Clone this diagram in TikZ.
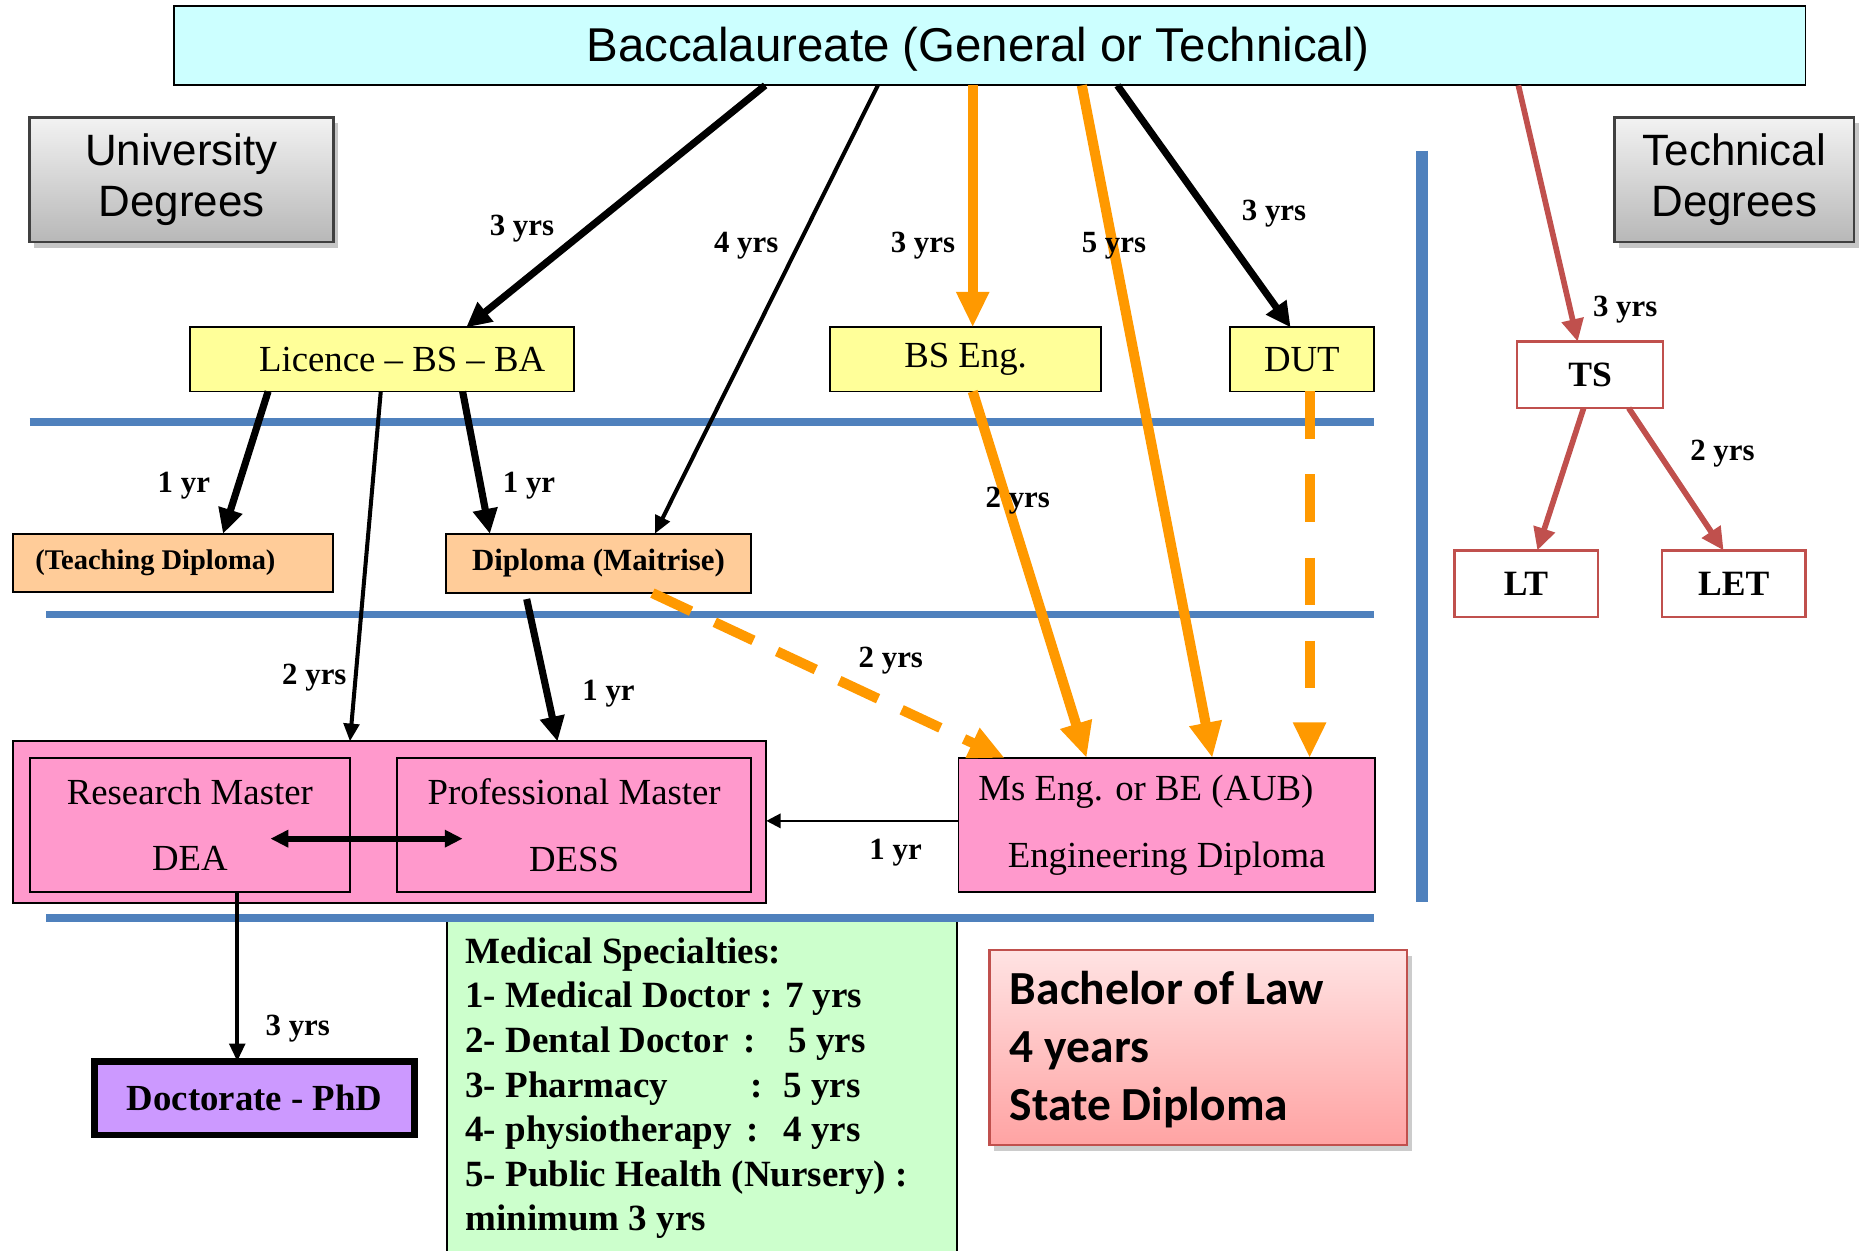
\documentclass[tikz,border=0pt]{standalone}
\usepackage{fontspec}
\setmainfont{Liberation Serif}
\newfontfamily\arialf{Liberation Sans}
\newfontfamily\calibf{Carlito}
\usetikzlibrary{arrows.meta,shadows,calc}
\definecolor{bacccyan}{HTML}{CCFFFF}
\definecolor{boxyellow}{HTML}{FFFF99}
\definecolor{peach}{HTML}{FFCC99}
\definecolor{pinkm}{HTML}{FF99CC}
\definecolor{violetd}{HTML}{CC99FF}
\definecolor{mgreen}{HTML}{CCFFCC}
\definecolor{orangea}{HTML}{FF9900}
\definecolor{reda}{HTML}{C0504D}
\definecolor{bluel}{HTML}{4F81BD}
\definecolor{lawtop}{HTML}{FFE3E3}
\definecolor{lawbot}{HTML}{FFA3A3}
\begin{document}
\begin{tikzpicture}[x=0.5pt,y=-0.5pt,
  box/.style={draw=black, line width=0.8pt, inner sep=0pt, outer sep=0pt, anchor=north west},
  ybox/.style={box, fill=boxyellow, font=\fontsize{15.5}{18}\selectfont},
  pbox/.style={box, fill=peach, font=\bfseries\fontsize{13}{16}\selectfont},
  rbox/.style={box, draw=reda, line width=1pt, fill=white, font=\bfseries\fontsize{15}{18}\selectfont},
  mbox/.style={box, fill=pinkm, align=center, font=\fontsize{15.5}{28}\selectfont},
  gbox/.style={box, draw=black!75, line width=1pt, top color=black!5, bottom color=black!28,
     drop shadow={shadow xshift=2pt, shadow yshift=-2.5pt, opacity=0.45},
     font=\arialf\fontsize{18.5}{21.75}\selectfont, align=center},
  lbl/.style={font=\bfseries\fontsize{13}{15}\selectfont, inner sep=0pt},
  medt/.style={font=\bfseries\fontsize{15.6}{18}\selectfont, inner sep=0pt, anchor=base west},
  lawt/.style={font=\calibf\bfseries\fontsize{20}{24}\selectfont, inner sep=0pt, anchor=base west},
  blk/.style={draw=black, line width=3pt, -{Triangle[length=10.5pt,width=10pt]}},
  thinarr/.style={draw=black, line width=1.7pt, -{Triangle[length=7.5pt,width=6.5pt]}},
  org/.style={draw=orangea, line width=4.25pt, -{Triangle[length=15pt,width=13pt]}},
  orgd/.style={org, dash pattern=on 18pt off 11pt},
  orgv/.style={org, dash pattern=on 20pt off 15pt},
  rarr/.style={draw=reda, line width=2.4pt, -{Triangle[length=9.5pt,width=9pt]}},
  bline/.style={draw=bluel, line width=3.25pt},
]
\useasboundingbox (0,0) rectangle (1568,1054);

% ---- top box
\node[box, fill=bacccyan, minimum width=687.5pt, minimum height=33.5pt,
      text height=15pt, text depth=1.5pt,
      font=\arialf\fontsize{20}{24}\selectfont] (bacc) at (147,5)
      {\hspace*{-10pt}Baccalaureate (General or Technical)};

% ---- side titles
\node[gbox, minimum width=128pt, minimum height=52.5pt] (univ) at (25,99) {University\\Degrees};
\node[gbox, minimum width=101pt, minimum height=52.5pt] (tech) at (1361,99) {Technical\\Degrees};

% ---- medical box (under blue line)
\node[box, fill=mgreen, minimum width=215pt, minimum height=150pt] (medical) at (377,774) {};

% ---- blue separators
\draw[bline] (25,356) -- (1158,356);
\draw[bline] (39,518) -- (1158,518);
\draw[bline] (39,774) -- (1158,774);
\draw[draw=bluel, line width=5pt] (1199,127) -- (1199,760);

% ---- first level
\node[ybox, minimum width=162pt, minimum height=27pt] (licence) at (160,276) {\hspace*{17pt}Licence -- BS -- BA};
\node[ybox, minimum width=114pt, minimum height=27pt] (bseng) at (700,276) {BS Eng.};
\node[ybox, minimum width=60.5pt, minimum height=27pt] (dut) at (1037,276) {DUT};

% ---- technical side
\node[rbox, minimum width=61.5pt, minimum height=28pt] (ts) at (1279,288) {TS};
\node[rbox, minimum width=60.5pt, minimum height=28pt] (lt) at (1226,464) {LT};
\node[rbox, minimum width=60.5pt, minimum height=28pt] (let) at (1401,464) {LET};

% ---- diplomas
\node[pbox, minimum width=135pt, minimum height=24.5pt, font=\bfseries\fontsize{12}{15}\selectfont] (teaching) at (11,450) {(Teaching Diploma)\hspace*{15pt}};
\node[pbox, minimum width=128.5pt, minimum height=25pt] (diploma) at (376,450) {Diploma (Maitrise)};

% ---- masters
\node[box, fill=pinkm, minimum width=317.5pt, minimum height=68pt] (master) at (11,625) {};
\node[mbox, minimum width=135pt, minimum height=56.5pt] (research) at (25,639) {Research Master\\DEA};
\node[mbox, minimum width=149pt, minimum height=56.5pt] (profess) at (335,639) {Professional Master\\DESS};
\node[mbox, minimum width=175.5pt, minimum height=56.5pt] (mseng) at (808,639) {Ms Eng. or BE (AUB)\hspace*{17.5pt}\\Engineering Diploma};

% ---- doctorate
\node[box, fill=violetd, line width=2.75pt, minimum width=134.75pt, minimum height=31pt,
      font=\bfseries\fontsize{15.5}{18}\selectfont] (doct) at (79.75,894.75) {Doctorate - PhD};

% ---- medical text
\node[medt] (med0) at (392,812) {Medical Specialties:};
\node[medt] (med1) at (392,849.6) {1- Medical Doctor : 7 yrs};
\node[medt] (med2) at (392,887.2) {\makebox[117pt][l]{2- Dental Doctor}:\hspace*{14pt}5 yrs};
\node[medt] (med3) at (392,924.8) {\makebox[120pt][l]{3- Pharmacy}:\hspace*{8.8pt}5 yrs};
\node[medt] (med4) at (392,962.4) {\makebox[118.5pt][l]{4- physiotherapy}:\hspace*{10.3pt}4 yrs};
\node[medt] (med5) at (392,1000) {5- Public Health (Nursery) :};
\node[medt] (med6) at (392,1037.6) {minimum 3 yrs};

% ---- law
\node[box, draw=reda, line width=1pt, top color=lawtop, bottom color=lawbot,
      drop shadow={shadow xshift=2pt, shadow yshift=-2.5pt, opacity=0.4},
      minimum width=176pt, minimum height=82pt] (law) at (834,801) {};
\node[lawt] (law1) at (851,846.5) {Bachelor of Law};
\node[lawt] (law2) at (851,895.7) {4 years};
\node[lawt] (law3) at (851,944.4) {State Diploma};

% ---- connectors
\draw[blk] (645,0 |- bacc.south) -- (393,0 |- licence.north);
\draw[thinarr] (740,0 |- bacc.south) -- (552,0 |- diploma.north);
\draw[org] (820,0 |- bacc.south) -- (820,0 |- bseng.north);
\draw[org] (912,0 |- bacc.south) -- (1022,0 |- mseng.north);
\draw[blk] (942,0 |- bacc.south) -- (1088,0 |- dut.north);
\draw[rarr] (1280,0 |- bacc.south) -- (1330,0 |- ts.north);

\draw[blk] (226,0 |- licence.south) -- (188,0 |- teaching.north);
\draw[thinarr] (321,0 |- licence.south) -- (295,0 |- master.north);
\draw[blk] (390,0 |- licence.south) -- (413,0 |- diploma.north);

\draw[blk] ([yshift=-2.5pt]444,0 |- diploma.south) -- (470,0 |- master.north);
\draw[orgd] (550,0 |- diploma.south) -- (847,0 |- mseng.north);
\draw[org] (820,0 |- bseng.south) -- (916,0 |- mseng.north);
\draw[orgv] (1104,0 |- dut.south) -- (1104,0 |- mseng.north);

\draw[rarr] (1335,0 |- ts.south) -- (1296,0 |- lt.north);
\draw[rarr] (1373,0 |- ts.south) -- (1453,0 |- let.north);

\draw[draw=black, line width=1pt, -{Triangle[length=6pt,width=6pt]}] (mseng.west |- 0,692) -- (master.east |- 0,692);

\coordinate (deaend) at (228,707);
\coordinate (dessend) at (390,707);
\draw[draw=black, line width=2.4pt, {Triangle[length=7.5pt,width=7pt]}-{Triangle[length=7.5pt,width=7pt]}] (deaend) -- (dessend);

\draw[thinarr] (200,0 |- research.south) -- (200,0 |- doct.north);

% ---- labels
\node[lbl] (t1) at (440,193) {3 yrs};
\node[lbl] (t2) at (629,207) {4 yrs};
\node[lbl] (t3) at (778,207) {3 yrs};
\node[lbl] (t4) at (939,207) {5 yrs};
\node[lbl] (t5) at (1074,180) {3 yrs};
\node[lbl] (t6) at (1370,261) {3 yrs};
\node[lbl] (t7) at (155,409) {1 yr};
\node[lbl] (t8) at (265,571) {2 yrs};
\node[lbl] (t9) at (446,409) {1 yr};
\node[lbl] (t10) at (513,585) {1 yr};
\node[lbl] (t11) at (751,557) {2 yrs};
\node[lbl] (t12) at (858,422) {2 yrs};
\node[lbl] (t13) at (1452,382) {2 yrs};
\node[lbl] (t14) at (755,719) {1 yr};
\node[lbl] (t15) at (251,867) {3 yrs};
\end{tikzpicture}
\end{document}
